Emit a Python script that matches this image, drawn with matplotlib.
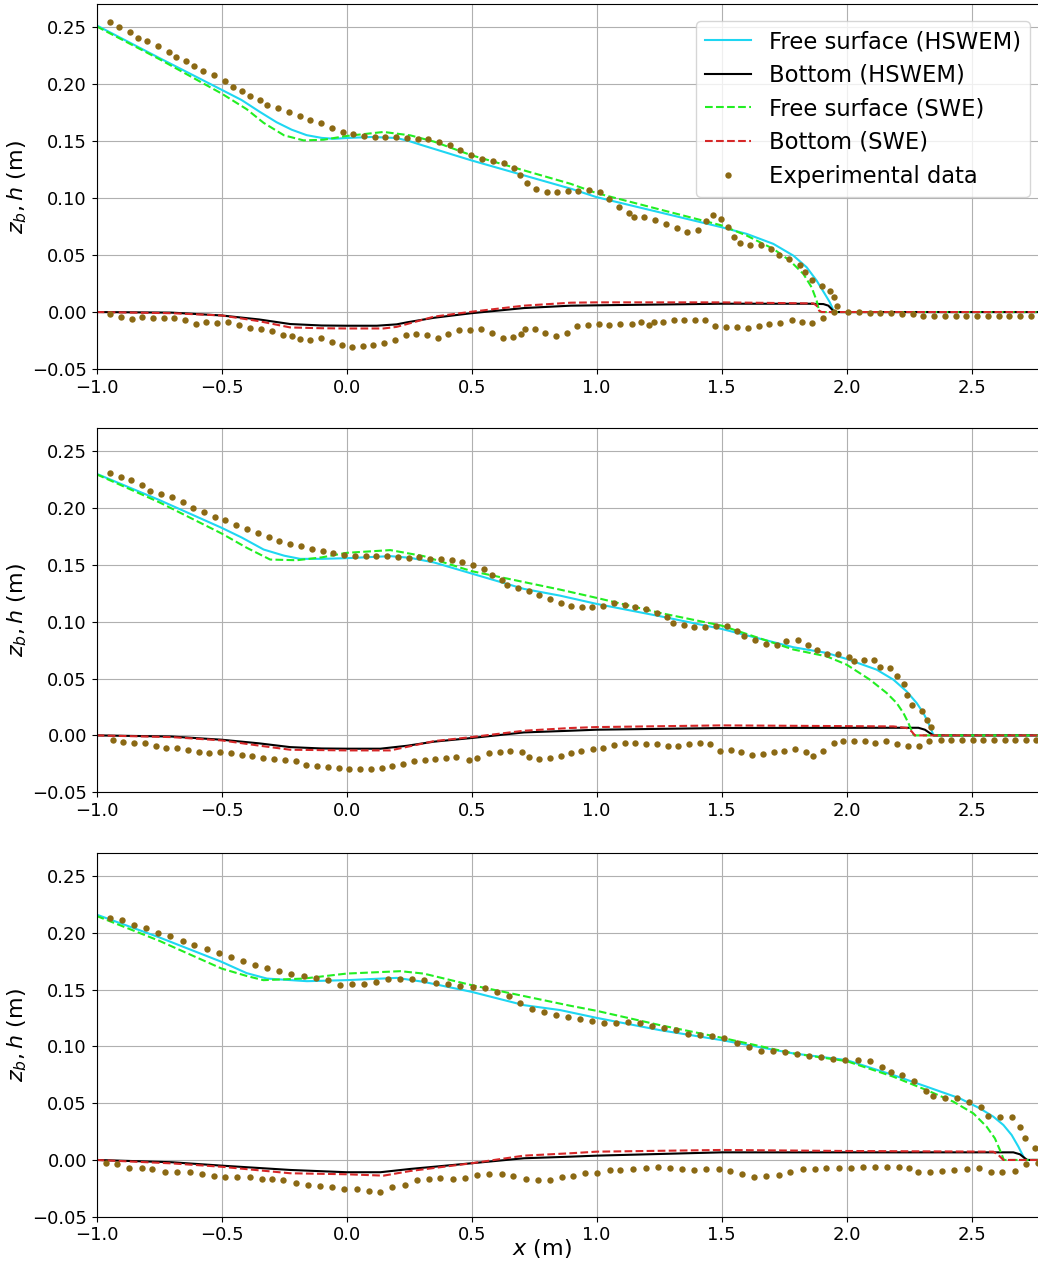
import matplotlib
matplotlib.use("Agg")
import matplotlib.pyplot as plt
import numpy as np

# ---------------- panel 1 ----------------
p1_fs_hswem_x = [-1.0, -0.75, -0.5, -0.42, -0.35, -0.28, -0.22, -0.16, -0.1, -0.05, 0.0, 0.1, 0.2, 0.25, 0.3, 0.5, 0.7, 0.9, 1.0,
                 1.5, 1.6, 1.707, 1.787, 1.84, 1.88, 1.913, 1.933, 1.949, 1.955, 2.8]
p1_fs_hswem_y = [0.2515, 0.223, 0.195, 0.186, 0.176, 0.1665, 0.1600, 0.1552, 0.1528, 0.152, 0.1527, 0.1536, 0.1527, 0.150, 0.1465, 0.133, 0.1205, 0.108, 0.1008,
                 0.0744, 0.0686, 0.0598, 0.0495, 0.0393, 0.0276, 0.0158, 0.0085, 0.0006, 0.0, 0.0]
p1_bot_hswem_x = [-1.0, -0.7, -0.5, -0.35, -0.226, -0.1, 0.0, 0.121, 0.2, 0.242, 0.35, 0.5, 0.709, 0.896, 1.0, 1.5, 1.853, 1.907, 1.927, 1.94, 1.949, 1.955, 2.8]
p1_bot_hswem_y = [0.0, -0.0005, -0.003, -0.0065, -0.0105, -0.0118, -0.012, -0.012, -0.0108, -0.009, -0.005, -0.001, 0.0035, 0.0056, 0.0059, 0.0073, 0.0073, 0.007, 0.0056, 0.0026, 0.0003, 0.0, 0.0]
p1_fs_swe_x = [-1.0, -0.75, -0.5, -0.4, -0.332, -0.25, -0.172, -0.092, 0.0, 0.148, 0.255, 0.35, 0.5, 0.896, 1.0,
               1.5, 1.6, 1.707, 1.773, 1.827, 1.86, 1.88, 1.89, 1.895, 2.8]
p1_fs_swe_y = [0.2506, 0.222, 0.1917, 0.178, 0.166, 0.155, 0.1506, 0.1512, 0.1545, 0.158, 0.155, 0.1495, 0.1375, 0.1125, 0.1043,
               0.076, 0.0671, 0.0554, 0.0451, 0.0334, 0.0217, 0.010, 0.001, 0.0, 0.0]
p1_bot_swe_x = [-1.0, -0.7, -0.5, -0.35, -0.226, -0.1, 0.0, 0.148, 0.2, 0.242, 0.35, 0.5, 0.709, 0.896, 1.0, 1.5, 1.853, 1.867, 1.88, 1.89, 1.9, 2.8]
p1_bot_swe_y = [0.0, -0.001, -0.003, -0.008, -0.0135, -0.0142, -0.0144, -0.0144, -0.013, -0.0105, -0.004, 0.0003, 0.0056, 0.0082, 0.0085, 0.0085, 0.0076, 0.0076, 0.0056, 0.0012, 0.0, 0.0]
p1_exp_fs_x = [-0.947, -0.911, -0.868, -0.836, -0.797, -0.754, -0.712, -0.682, -0.641, -0.610, -0.574, -0.529, -0.486, -0.453, -0.418,
               -0.387, -0.346, -0.318, -0.275, -0.232, -0.188, -0.147, -0.103, -0.060, -0.016, 0.027, 0.069, 0.112, 0.155, 0.199,
               0.242, 0.284, 0.327, 0.370, 0.413, 0.455, 0.499, 0.542, 0.585, 0.629, 0.668, 0.694, 0.721, 0.756, 0.800, 0.842,
               0.885, 0.927, 0.971, 1.013, 1.051, 1.089, 1.128, 1.148, 1.191, 1.233, 1.277, 1.320, 1.363, 1.404, 1.437, 1.467,
               1.499, 1.524, 1.549, 1.573, 1.615, 1.657, 1.699, 1.728, 1.771, 1.812, 1.835, 1.863, 1.900, 1.933, 1.949, 1.960]
p1_exp_fs_y = [0.2544, 0.2503, 0.2453, 0.2403, 0.2377, 0.2333, 0.2280, 0.2242, 0.2201, 0.2157, 0.2113, 0.2078, 0.2025, 0.1978, 0.1943,
               0.1893, 0.1864, 0.1814, 0.1791, 0.1756, 0.1720, 0.1685, 0.1656, 0.1618, 0.1580, 0.1559, 0.1542, 0.1539, 0.1539, 0.1536,
               0.1530, 0.1521, 0.1515, 0.1489, 0.1462, 0.1424, 0.1380, 0.1345, 0.1322, 0.1310, 0.1266, 0.1202, 0.1131, 0.1076, 0.1052, 0.1055,
               0.1061, 0.1061, 0.1067, 0.1055, 0.0996, 0.0926, 0.0873, 0.0838, 0.0832, 0.0806, 0.0771, 0.0739, 0.0706, 0.0724, 0.0800, 0.0853,
               0.0818, 0.0742, 0.0659, 0.0610, 0.0586, 0.0589, 0.0554, 0.0498, 0.0463, 0.0413, 0.0355, 0.0281, 0.0226, 0.0188, 0.0129, 0.0056]
p1_exp_bot_x = [-0.947, -0.903, -0.858, -0.818, -0.776, -0.732, -0.689, -0.646, -0.602, -0.561, -0.518, -0.474, -0.430, -0.387, -0.344,
                -0.300, -0.256, -0.219, -0.186, -0.147, -0.103, -0.057, -0.019, 0.021, 0.064, 0.107, 0.148, 0.192, 0.236, 0.279,
                0.322, 0.364, 0.407, 0.449, 0.493, 0.537, 0.582, 0.624, 0.666, 0.698, 0.713, 0.752, 0.794, 0.838, 0.881,
                0.923, 0.965, 1.008, 1.048, 1.093, 1.140, 1.179, 1.211, 1.228, 1.265, 1.308, 1.351, 1.393, 1.432, 1.475, 1.519,
                1.561, 1.604, 1.648, 1.691, 1.733, 1.780, 1.820, 1.863, 1.907, 1.949, 2.007, 2.049, 2.092, 2.135, 2.179, 2.221,
                2.264, 2.307, 2.350, 2.393, 2.436, 2.479, 2.522, 2.565, 2.608, 2.651, 2.694, 2.737]
p1_exp_bot_y = [-0.0021, -0.0041, -0.0062, -0.0047, -0.0053, -0.0050, -0.0050, -0.0070, -0.0103, -0.0091, -0.0094, -0.0091, -0.0114, -0.0138, -0.0147,
                -0.0170, -0.0199, -0.0214, -0.0240, -0.0243, -0.0232, -0.0267, -0.0290, -0.0305, -0.0299, -0.0290, -0.0275, -0.0249, -0.0205, -0.0193,
                -0.0199, -0.0229, -0.0191, -0.0155, -0.0158, -0.0152, -0.0185, -0.0232, -0.0220, -0.0196, -0.0149, -0.0149, -0.0185, -0.0211, -0.0188,
                -0.0120, -0.0111, -0.0106, -0.0111, -0.0106, -0.0106, -0.0091, -0.0114, -0.0091, -0.0085, -0.0073, -0.0067, -0.0067, -0.0067, -0.0123, -0.0129,
                -0.0132, -0.0138, -0.0120, -0.0106, -0.0100, -0.0067, -0.0088, -0.0094, -0.0056, -0.0003, 0.0003, 0.0, -0.0006, -0.0009, -0.0012, -0.0015,
                -0.0020, -0.0038, -0.0038, -0.0038, -0.0038, -0.0038, -0.0038, -0.0038, -0.0038, -0.0038, -0.0038, -0.0038]

# ---------------- panel 2 ----------------
p2_fs_hswem_x = [-1.0, -0.75, -0.5, -0.42, -0.332, -0.25, -0.186, -0.1, 0.0, 0.175, 0.255, 0.35, 0.5, 0.709, 0.853, 1.0, 1.253, 1.5,
                 1.787, 1.92, 2.0, 2.12, 2.187, 2.24, 2.28, 2.307, 2.327, 2.344, 2.35, 2.8]
p2_fs_hswem_y = [0.230, 0.207, 0.1825, 0.174, 0.1634, 0.158, 0.1552, 0.1552, 0.1558, 0.1576, 0.1561, 0.152, 0.1423, 0.1288, 0.1229, 0.1156, 0.1048, 0.0936,
                 0.0775, 0.0725, 0.0672, 0.0578, 0.049, 0.0387, 0.0285, 0.0197, 0.0109, 0.002, 0.0, 0.0]
p2_bot_hswem_x = [-1.0, -0.7, -0.5, -0.35, -0.226, -0.1, 0.0, 0.135, 0.242, 0.35, 0.5, 0.709, 0.896, 1.0, 1.5, 2.187, 2.287, 2.313, 2.333, 2.347, 2.8]
p2_bot_hswem_y = [0.0, -0.001, -0.0038, -0.007, -0.0103, -0.0115, -0.0117, -0.0117, -0.0091, -0.0055, -0.0023, 0.0026, 0.0041, 0.005, 0.0065, 0.0067, 0.0067, 0.005, 0.002, 0.0, 0.0]
p2_fs_swe_x = [-1.0, -0.75, -0.5, -0.4, -0.306, -0.199, -0.1, 0.0, 0.175, 0.308, 0.5, 0.853, 1.0, 1.253, 1.5,
               1.787, 1.92, 2.0, 2.093, 2.16, 2.2, 2.227, 2.247, 2.264, 2.27, 2.8]
p2_fs_swe_y = [0.2295, 0.205, 0.1775, 0.165, 0.1546, 0.154, 0.1565, 0.1605, 0.1629, 0.1576, 0.1444, 0.1282, 0.1209, 0.1077, 0.0965,
               0.0755, 0.0695, 0.0622, 0.049, 0.0373, 0.0285, 0.0197, 0.0109, 0.002, 0.0, 0.0]
p2_bot_swe_x = [-1.0, -0.7, -0.5, -0.35, -0.226, 0.0, 0.175, 0.282, 0.35, 0.5, 0.709, 0.896, 1.0, 1.5, 2.187, 2.24, 2.26, 2.273, 2.8]
p2_bot_swe_y = [0.0, -0.0015, -0.0044, -0.009, -0.0126, -0.0132, -0.0132, -0.0082, -0.005, -0.0015, 0.0041, 0.0065, 0.0073, 0.0088, 0.0079, 0.0065, 0.0035, 0.0, 0.0]
p2_exp_fs_x = [-0.947, -0.904, -0.861, -0.818, -0.786, -0.744, -0.700, -0.656, -0.613, -0.570, -0.527, -0.485, -0.442, -0.398, -0.355,
               -0.312, -0.270, -0.226, -0.183, -0.140, -0.096, -0.053, -0.011, 0.032, 0.076, 0.119, 0.162, 0.206, 0.248, 0.291,
               0.334, 0.376, 0.421, 0.463, 0.506, 0.549, 0.583, 0.622, 0.642, 0.684, 0.728, 0.770, 0.813, 0.856,
               0.897, 0.940, 0.983, 1.025, 1.068, 1.112, 1.155, 1.197, 1.240, 1.283, 1.305, 1.348, 1.391, 1.433, 1.476, 1.520,
               1.563, 1.591, 1.632, 1.676, 1.721, 1.759, 1.804, 1.847, 1.881, 1.921, 1.965, 2.008, 2.029, 2.069, 2.109, 2.132,
               2.173, 2.203, 2.231, 2.243, 2.260, 2.303, 2.323, 2.337]
p2_exp_fs_y = [0.2303, 0.2274, 0.2242, 0.2201, 0.2145, 0.2122, 0.2093, 0.2055, 0.2001, 0.1960, 0.1922, 0.1893, 0.1852, 0.1811, 0.1782,
               0.1741, 0.1711, 0.1682, 0.1661, 0.1643, 0.1620, 0.1602, 0.1582, 0.1573, 0.1573, 0.1573, 0.1573, 0.1570, 0.1561, 0.1564,
               0.1549, 0.1552, 0.1543, 0.1523, 0.1499, 0.1461, 0.1411, 0.1370, 0.1320, 0.1300, 0.1273, 0.1232, 0.1200, 0.1162,
               0.1141, 0.1130, 0.1130, 0.1141, 0.1162, 0.1150, 0.1130, 0.1109, 0.1080, 0.1042, 0.0992, 0.0968, 0.0951, 0.0951, 0.0960, 0.0960,
               0.0919, 0.0872, 0.0839, 0.0801, 0.0792, 0.0830, 0.0839, 0.0798, 0.0751, 0.0719, 0.0719, 0.0690, 0.0652, 0.0663, 0.0663, 0.0599,
               0.0590, 0.0520, 0.0452, 0.0358, 0.0267, 0.0211, 0.0138, 0.0070]
p2_exp_bot_x = [-0.936, -0.893, -0.850, -0.806, -0.764, -0.721, -0.678, -0.636, -0.591, -0.549, -0.506, -0.463, -0.420, -0.377, -0.334,
                -0.291, -0.247, -0.204, -0.162, -0.119, -0.075, -0.032, 0.011, 0.053, 0.097, 0.140, 0.183, 0.226, 0.268, 0.312,
                0.355, 0.397, 0.439, 0.489, 0.523, 0.570, 0.615, 0.653, 0.700, 0.730, 0.770, 0.813, 0.856, 0.896,
                0.937, 0.984, 1.025, 1.068, 1.112, 1.155, 1.197, 1.240, 1.285, 1.327, 1.369, 1.413, 1.453, 1.493, 1.536,
                1.579, 1.623, 1.665, 1.708, 1.751, 1.795, 1.837, 1.865, 1.905, 1.948, 1.987, 2.029, 2.072, 2.115, 2.159, 2.200,
                2.245, 2.291, 2.328, 2.376, 2.419, 2.461, 2.504, 2.547, 2.589, 2.632, 2.675, 2.717, 2.757]
p2_exp_bot_y = [-0.0041, -0.0062, -0.0070, -0.0070, -0.0091, -0.0112, -0.0112, -0.0132, -0.0150, -0.0158, -0.0150, -0.0158, -0.0170, -0.0182, -0.0200,
                -0.0211, -0.0220, -0.0229, -0.0261, -0.0270, -0.0279, -0.0290, -0.0299, -0.0299, -0.0299, -0.0290, -0.0270, -0.0249, -0.0229, -0.0220,
                -0.0208, -0.0200, -0.0191, -0.0220, -0.0200, -0.0158, -0.0150, -0.0141, -0.0150, -0.0191, -0.0208, -0.0200, -0.0179, -0.0158,
                -0.0141, -0.0120, -0.0112, -0.0088, -0.0070, -0.0070, -0.0079, -0.0079, -0.0091, -0.0091, -0.0079, -0.0070, -0.0079, -0.0141, -0.0129,
                -0.0150, -0.0170, -0.0161, -0.0150, -0.0141, -0.0120, -0.0150, -0.0182, -0.0141, -0.0070, -0.0050, -0.0050, -0.0050, -0.0070, -0.0050, -0.0079,
                -0.0091, -0.0091, -0.0050, -0.0041, -0.0041, -0.0041, -0.0041, -0.0041, -0.0041, -0.0041, -0.0041, -0.0041, -0.0041]

# ---------------- panel 3 ----------------
p3_fs_hswem_x = [-1.0, -0.75, -0.5, -0.4, -0.319, -0.159, 0.0, 0.201, 0.308, 0.5, 0.709, 0.853, 1.0, 1.253, 1.5, 1.787, 2.0,
                 2.187, 2.32, 2.453, 2.533, 2.587, 2.627, 2.66, 2.687, 2.707, 2.717, 2.8]
p3_fs_hswem_y = [0.216, 0.196, 0.1744, 0.1645, 0.1597, 0.1574, 0.1583, 0.1603, 0.1568, 0.148, 0.1363, 0.1320, 0.1251, 0.1143, 0.1055, 0.0938, 0.0879,
                 0.0747, 0.0645, 0.0542, 0.0454, 0.0381, 0.0308, 0.022, 0.0117, 0.003, 0.0, 0.0]
p3_bot_hswem_x = [-1.0, -0.7, -0.5, -0.226, 0.0, 0.135, 0.255, 0.5, 0.709, 0.896, 1.0, 1.5, 2.0, 2.667, 2.693, 2.713, 2.723, 2.8]
p3_bot_hswem_y = [0.0, -0.002, -0.005, -0.0088, -0.0108, -0.0108, -0.0079, -0.0029, 0.0015, 0.0029, 0.0038, 0.0067, 0.0067, 0.0067, 0.005, 0.0015, 0.0, 0.0]
p3_fs_swe_x = [-1.0, -0.75, -0.5, -0.4, -0.333, -0.172, 0.0, 0.215, 0.308, 0.5, 0.896, 1.0, 1.253, 1.5, 1.787, 2.0,
               2.187, 2.32, 2.427, 2.507, 2.56, 2.593, 2.613, 2.629, 2.8]
p3_fs_swe_y = [0.2148, 0.193, 0.1685, 0.162, 0.1583, 0.1597, 0.1641, 0.1662, 0.1641, 0.1539, 0.1357, 0.1313, 0.1187, 0.1076, 0.0938, 0.0870,
               0.0733, 0.0615, 0.0513, 0.041, 0.0293, 0.019, 0.0088, 0.0, 0.0]
p3_bot_swe_x = [-1.0, -0.7, -0.5, -0.226, 0.0, 0.148, 0.255, 0.5, 0.709, 0.896, 1.0, 1.5, 2.0, 2.587, 2.607, 2.627, 2.8]
p3_bot_swe_y = [0.0, -0.003, -0.006, -0.0117, -0.0126, -0.0138, -0.0097, -0.0029, 0.0038, 0.0059, 0.0073, 0.0088, 0.0079, 0.0073, 0.0044, 0.0, 0.0]
p3_exp_fs_x = [-0.947, -0.899, -0.850, -0.801, -0.753, -0.705, -0.656, -0.609, -0.559, -0.511, -0.463, -0.415, -0.367, -0.318, -0.270,
               -0.222, -0.172, -0.124, -0.076, -0.028, 0.020, 0.069, 0.117, 0.166, 0.214, 0.263, 0.311, 0.359, 0.407, 0.455,
               0.505, 0.553, 0.601, 0.649, 0.692, 0.740, 0.789, 0.837, 0.885,
               0.933, 0.981, 1.028, 1.077, 1.125, 1.173, 1.223, 1.271, 1.319, 1.367, 1.415, 1.463, 1.511, 1.560, 1.609, 1.656,
               1.705, 1.755, 1.801, 1.851, 1.899, 1.947, 1.995, 2.044, 2.092, 2.140, 2.176, 2.220, 2.268, 2.316, 2.347, 2.393,
               2.440, 2.488, 2.537, 2.567, 2.613, 2.661, 2.693, 2.715, 2.752]
p3_exp_fs_y = [0.2131, 0.2113, 0.2069, 0.2043, 0.2002, 0.1972, 0.1931, 0.1893, 0.1861, 0.1823, 0.1791, 0.1750, 0.1720, 0.1691, 0.1662,
               0.1641, 0.1621, 0.1603, 0.1580, 0.1542, 0.1553, 0.1553, 0.1571, 0.1591, 0.1591, 0.1591, 0.1580, 0.1562, 0.1553, 0.1533,
               0.1524, 0.1512, 0.1483, 0.1442, 0.1380, 0.1331, 0.1301, 0.1272, 0.1263,
               0.1240, 0.1222, 0.1202, 0.1202, 0.1213, 0.1202, 0.1181, 0.1161, 0.1143, 0.1111, 0.1102, 0.1090, 0.1073, 0.1032, 0.0991, 0.0958,
               0.0958, 0.0950, 0.0932, 0.0912, 0.0903, 0.0891, 0.0882, 0.0879, 0.0870, 0.0821, 0.0771, 0.0750, 0.0692, 0.0610, 0.0560, 0.0542,
               0.0542, 0.0510, 0.0463, 0.0390, 0.0381, 0.0381, 0.0293, 0.0191, 0.0103]
p3_exp_bot_x = [-0.964, -0.917, -0.870, -0.820, -0.777, -0.725, -0.677, -0.628, -0.579, -0.530, -0.486, -0.437, -0.387, -0.340, -0.298,
                -0.254, -0.204, -0.156, -0.108, -0.057, -0.009, 0.040, 0.089, 0.135, 0.182, 0.234, 0.280, 0.328, 0.375, 0.425,
                0.473, 0.521, 0.570, 0.622, 0.665, 0.716, 0.764, 0.813, 0.861,
                0.904, 0.953, 1.000, 1.053, 1.095, 1.147, 1.196, 1.244, 1.293, 1.341, 1.389, 1.436, 1.488, 1.533, 1.581, 1.631,
                1.679, 1.728, 1.775, 1.824, 1.873, 1.919, 1.968, 2.016, 2.064, 2.112, 2.161, 2.209, 2.249, 2.285, 2.335, 2.383,
                2.431, 2.483, 2.529, 2.576, 2.623, 2.672, 2.716, 2.765]
p3_exp_bot_y = [-0.0029, -0.0038, -0.0067, -0.0067, -0.0079, -0.0108, -0.0108, -0.0108, -0.0120, -0.0138, -0.0149, -0.0149, -0.0149, -0.0167, -0.0167,
                -0.0179, -0.0199, -0.0220, -0.0229, -0.0240, -0.0258, -0.0258, -0.0270, -0.0279, -0.0237, -0.0220, -0.0179, -0.0167, -0.0158, -0.0167,
                -0.0158, -0.0129, -0.0120, -0.0120, -0.0138, -0.0167, -0.0179, -0.0179, -0.0149,
                -0.0138, -0.0111, -0.0111, -0.0088, -0.0088, -0.0076, -0.0070, -0.0059, -0.0070, -0.0076, -0.0088, -0.0079, -0.0079, -0.0100, -0.0120, -0.0149,
                -0.0138, -0.0129, -0.0108, -0.0079, -0.0079, -0.0070, -0.0070, -0.0070, -0.0059, -0.0059, -0.0059, -0.0059, -0.0070, -0.0108, -0.0108, -0.0100,
                -0.0088, -0.0079, -0.0070, -0.0108, -0.0108, -0.0100, -0.0038, -0.0029]

panels = [
    (p1_fs_hswem_x, p1_fs_hswem_y, p1_bot_hswem_x, p1_bot_hswem_y, p1_fs_swe_x, p1_fs_swe_y, p1_bot_swe_x, p1_bot_swe_y,
     p1_exp_fs_x, p1_exp_fs_y, p1_exp_bot_x, p1_exp_bot_y),
    (p2_fs_hswem_x, p2_fs_hswem_y, p2_bot_hswem_x, p2_bot_hswem_y, p2_fs_swe_x, p2_fs_swe_y, p2_bot_swe_x, p2_bot_swe_y,
     p2_exp_fs_x, p2_exp_fs_y, p2_exp_bot_x, p2_exp_bot_y),
    (p3_fs_hswem_x, p3_fs_hswem_y, p3_bot_hswem_x, p3_bot_hswem_y, p3_fs_swe_x, p3_fs_swe_y, p3_bot_swe_x, p3_bot_swe_y,
     p3_exp_fs_x, p3_exp_fs_y, p3_exp_bot_x, p3_exp_bot_y),
]

# axes boxes (left, bottom, width, height) in figure fraction;
# the right edge runs past the figure, as in the cropped original
boxes = [[0.0931, 0.7085, 0.9104, 0.2881],
         [0.0931, 0.3742, 0.9104, 0.2875],
         [0.0931, 0.0389, 0.9104, 0.2871]]

c_fs = '#1ed6f2'
c_bot = 'black'
c_fs_swe = '#22ee22'
c_bot_swe = '#d62728'
c_exp = '#8b6914'

fig = plt.figure(figsize=(10.38, 12.66), dpi=100)
for i, (p, box) in enumerate(zip(panels, boxes)):
    ax = fig.add_axes(box)
    ax.plot(p[0], p[1], color=c_fs, lw=1.5, label='Free surface (HSWEM)')
    ax.plot(p[2], p[3], color=c_bot, lw=1.5, label='Bottom (HSWEM)')
    ax.plot(p[4], p[5], color=c_fs_swe, lw=1.5, ls='--', label='Free surface (SWE)')
    ax.plot(p[6], p[7], color=c_bot_swe, lw=1.5, ls='--', label='Bottom (SWE)')
    ax.plot(p[8], p[9], 'o', color=c_exp, ms=4.6, mew=0, label='Experimental data')
    ax.plot(p[10], p[11], 'o', color=c_exp, ms=4.6, mew=0)
    ax.set_xlim(-1.0, 2.78)
    ax.set_ylim(-0.05, 0.27)
    ax.set_xticks(np.arange(-1.0, 2.51, 0.5))
    ax.set_yticks(np.arange(-0.05, 0.251, 0.05))
    ax.tick_params(labelsize=13)
    ax.grid(True)
    ax.set_ylabel(r'$z_b, h$ (m)', fontsize=16)
    ax.yaxis.set_label_coords(-0.072, 0.5)
    if i == 0:
        ax.legend(loc='upper right', fontsize=16.3, labelspacing=0.47, borderpad=0.4,
                  bbox_to_anchor=(1030 / 1038, 1 - 21 / 1266), bbox_transform=fig.transFigure,
                  borderaxespad=0)
    if i == 2:
        ax.set_xlabel(r'$x$ (m)', fontsize=16)
        ax.xaxis.set_label_coords(0.471, -0.056)

fig.savefig('out.png', dpi=100)
